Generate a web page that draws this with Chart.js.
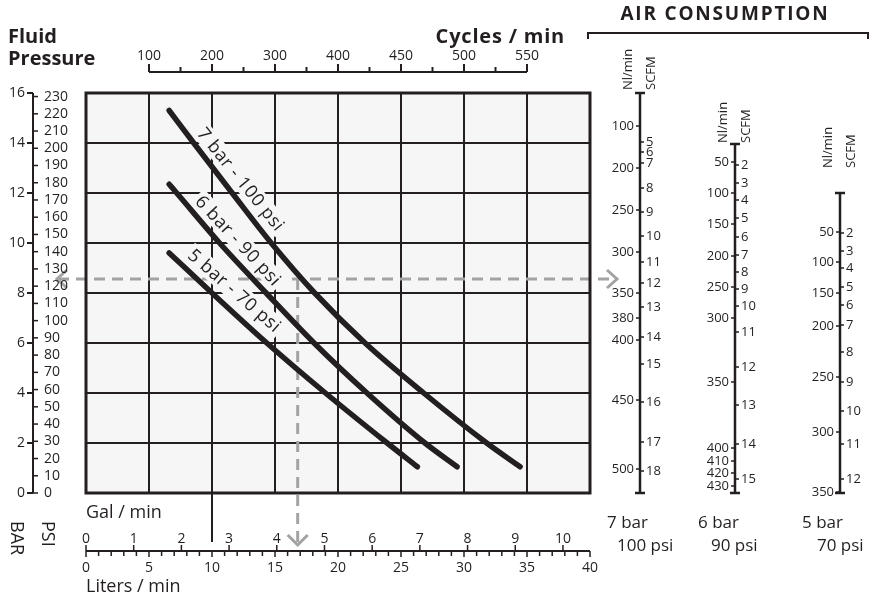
<!DOCTYPE html>
<html>
<head>
<meta charset="utf-8">
<script src="https://cdn.jsdelivr.net/npm/chart.js@4.4.0/dist/chart.umd.min.js"></script>
<style>
    html, body { margin: 0; padding: 0; background: #fff; }
    #wrap { width: 869px; height: 599px; }
</style>
</head>
<body>
<div id="wrap"><canvas id="pumpChart" width="869" height="599"></canvas></div>
<script>
// Pump curves: flow (liters / min) against fluid pressure (bar)
const flow7 = [6.6, 8.55, 11.6, 14.7, 18.15, 22.15, 26.8, 31.8, 34.45];
const pres7 = [15.3, 14, 12, 10, 8, 6, 4, 2, 1.05];
const flow6 = [6.6, 7.2, 10.6, 14.3, 18.1, 22.3, 26.9, 29.45];
const pres6 = [12.35, 12, 10, 8, 6, 4, 2, 1.05];
const flow5 = [6.6, 10.0, 14.35, 19.0, 23.9, 26.3];
const pres5 = [9.6, 8, 6, 4, 2, 1.05];
const curveNames = ["7 bar - 100 psi", "6 bar - 90 psi", "5 bar - 70 psi"];

// Axis ticks
const barTicks = [0, 2, 4, 6, 8, 10, 12, 14, 16];
const psiTicks = [0, 10, 20, 30, 40, 50, 60, 70, 80, 90, 100, 110, 120, 130, 140, 150, 160, 170, 180, 190, 200, 210, 220, 230];
const cycleLabels = [100, 200, 300, 400, 450, 500, 550];
const cycleAtFlow = [5, 10, 15, 20, 25, 30, 35];   // liters/min under each cycle rate
const galTicks = [0, 1, 2, 3, 4, 5, 6, 7, 8, 9, 10];
const literLabels = [0, 5, 10, 15, 20, 25, 30, 35, 40];

// Worked example (dashed grey lines)
const exampleFlow = 16.8;
const examplePressure = 8.56;

// Air consumption scales: value and the fluid pressure (bar) it lines up with
const air7Ni = [100, 200, 250, 300, 350, 380, 400, 450, 500];
const air7NiBar = [14.68, 13.0, 11.32, 9.64, 8.0, 7.0, 6.12, 3.72, 0.96];
const air7Scfm = [5, 6, 7, 8, 9, 10, 11, 12, 13, 14, 15, 16, 17, 18];
const air7ScfmBar = [14.04, 13.64, 13.2, 12.2, 11.24, 10.28, 9.24, 8.4, 7.44, 6.24, 5.16, 3.64, 2.04, 0.88];
const air6Ni = [50, 100, 150, 200, 250, 300, 350, 400, 410, 420, 430];
const air6NiBar = [13.24, 12.0, 10.76, 9.48, 8.24, 7.0, 4.44, 1.8, 1.28, 0.8, 0.28];
const air6Scfm = [2, 3, 4, 5, 6, 7, 8, 9, 10, 11, 12, 13, 14, 15];
const air6ScfmBar = [13.12, 12.4, 11.72, 11.0, 10.24, 9.52, 8.84, 8.16, 7.48, 6.44, 5.04, 3.52, 1.96, 0.56];
const air5Ni = [50, 100, 150, 200, 250, 300, 350];
const air5NiBar = [10.44, 9.24, 8.0, 6.68, 4.64, 2.44, 0.04];
const air5Scfm = [2, 3, 4, 5, 6, 7, 8, 9, 10, 11, 12];
const air5ScfmBar = [10.4, 9.68, 9.0, 8.24, 7.52, 6.72, 5.64, 4.44, 3.28, 1.96, 0.56];

const FONT = "'Open Sans', 'Noto Sans', sans-serif";
const INK = "#231f20";
const PLOT_BG = "#f6f6f6";
const DASH = "#a3a3a3";
const PSI_PER_BAR = 14.5038;
const LITERS_PER_GAL = 3.7854;

function toPoints(xs, ys) {
    return xs.map((v, i) => ({ x: v, y: ys[i] }));
}

function line(ctx, x1, y1, x2, y2) {
    ctx.beginPath();
    ctx.moveTo(x1, y1);
    ctx.lineTo(x2, y2);
    ctx.stroke();
}

function text(ctx, str, x, y, font, align, base) {
    ctx.font = font;
    ctx.textAlign = align || "left";
    ctx.textBaseline = base || "alphabetic";
    ctx.fillText(str, x, y);
}

function rotatedText(ctx, str, x, y, font, angle, align) {
    ctx.save();
    ctx.translate(x, y);
    ctx.rotate(angle);
    text(ctx, str, 0, 0, font, align, "middle");
    ctx.restore();
}

// one vertical air consumption scale
function drawAirScale(ctx, y, s) {
    const top = y.getPixelForValue(s.topBar);
    const bottom = y.getPixelForValue(0);
    ctx.lineWidth = 2.5;
    line(ctx, s.x, top, s.x, bottom);
    line(ctx, s.x - 5, top, s.x + 5, top);
    line(ctx, s.x - 5, bottom, s.x + 5, bottom);
    ctx.lineWidth = 1.5;
    s.ni.forEach((v, i) => {
        const p = y.getPixelForValue(s.niBar[i]);
        line(ctx, s.x - 4, p, s.x, p);
        text(ctx, String(v), s.x - 6, p, "13px " + FONT, "right", "middle");
    });
    s.scfm.forEach((v, i) => {
        const p = y.getPixelForValue(s.scfmBar[i]);
        line(ctx, s.x, p, s.x + 4, p);
        text(ctx, String(v), s.x + 6, p, "13px " + FONT, "left", "middle");
    });
    rotatedText(ctx, "Nl/min", s.x - 12, s.headBottom, "13px " + FONT, -Math.PI / 2, "left");
    rotatedText(ctx, "SCFM", s.x + 11, s.headBottom, "13px " + FONT, -Math.PI / 2, "left");
    text(ctx, s.bar, s.barX, 528, "17px " + FONT);
    text(ctx, s.psi, s.psiX, 551, "17px " + FONT);
}

const nomogram = {
    id: "nomogram",
    beforeDraw(chart) {
        const { ctx, chartArea: a } = chart;
        ctx.save();
        ctx.fillStyle = "#fff";
        ctx.fillRect(0, 0, chart.width, chart.height);
        ctx.fillStyle = PLOT_BG;
        ctx.fillRect(a.left, a.top, a.right - a.left, a.bottom - a.top);
        ctx.restore();
    },
    beforeDatasetsDraw(chart) {
        const { ctx, scales: { x, y } } = chart;
        const px = x.getPixelForValue(exampleFlow);
        const py = y.getPixelForValue(examplePressure);
        ctx.save();
        // dashed example lines
        ctx.strokeStyle = DASH;
        ctx.lineWidth = 3;
        ctx.setLineDash([11, 7]);
        line(ctx, 58, py, 614, py);
        line(ctx, px, py, px, 543);
        ctx.setLineDash([]);

        // curve labels, each on a small box that hides the grid
        const spots = [[12.3, 12.55, 51], [12.1, 10.1, 47], [11.8, 8.1, 41]];
        const labelFont = "18px " + FONT;
        spots.forEach((s, i) => {
            const cx = x.getPixelForValue(s[0]);
            const cy = y.getPixelForValue(s[1]);
            ctx.save();
            ctx.translate(cx, cy);
            ctx.rotate(s[2] * Math.PI / 180);
            ctx.font = labelFont;
            ctx.letterSpacing = "0.6px";
            const w = ctx.measureText(curveNames[i]).width;
            ctx.fillStyle = PLOT_BG;
            ctx.fillRect(-w / 2 - 3, -10, w + 6, 20);
            ctx.fillStyle = INK;
            text(ctx, curveNames[i], 0, 1, labelFont, "center", "middle");
            ctx.restore();
        });
        ctx.restore();
    },
    afterDatasetsDraw(chart) {
        const { ctx, chartArea: a, scales: { x, y } } = chart;
        ctx.save();
        ctx.strokeStyle = INK;
        ctx.fillStyle = INK;

        // plot frame
        ctx.lineWidth = 3;
        ctx.strokeRect(a.left, a.top, a.right - a.left, a.bottom - a.top);

        // arrowheads of the example
        const px = x.getPixelForValue(exampleFlow);
        const py = y.getPixelForValue(examplePressure);
        ctx.strokeStyle = DASH;
        ctx.lineWidth = 3;
        ctx.beginPath();
        ctx.moveTo(67, py - 9); ctx.lineTo(57, py); ctx.lineTo(67, py + 9);
        ctx.moveTo(607, py - 9); ctx.lineTo(617, py); ctx.lineTo(607, py + 9);
        ctx.moveTo(px - 10, 535); ctx.lineTo(px, 545); ctx.lineTo(px + 10, 535);
        ctx.stroke();
        ctx.strokeStyle = INK;

        // left BAR / PSI axis
        const axX = 33;
        ctx.lineWidth = 2;
        line(ctx, axX, y.getPixelForValue(16), axX, y.getPixelForValue(0));
        barTicks.forEach(v => {
            const p = y.getPixelForValue(v);
            line(ctx, axX - 6, p, axX, p);
            text(ctx, String(v), axX - 8, p, "14px " + FONT, "right", "middle");
        });
        ctx.lineWidth = 1.5;
        psiTicks.forEach(v => {
            const p = y.getPixelForValue(v / PSI_PER_BAR);
            line(ctx, axX, p, axX + 5, p);
            text(ctx, String(v), 44, p, "14px " + FONT, "left", "middle");
        });
        rotatedText(ctx, "BAR", 16, 521, "18px " + FONT, Math.PI / 2, "left");
        rotatedText(ctx, "PSI", 47, 521, "18px " + FONT, Math.PI / 2, "left");

        // top cycles / min axis
        const topY = 72;
        ctx.lineWidth = 2;
        line(ctx, x.getPixelForValue(cycleAtFlow[0]), topY, x.getPixelForValue(cycleAtFlow[cycleAtFlow.length - 1]), topY);
        cycleLabels.forEach((v, i) => {
            const p = x.getPixelForValue(cycleAtFlow[i]);
            line(ctx, p, topY - 8, p, topY);
            text(ctx, String(v), p, topY - 12, "14px " + FONT, "center");
            if (i < cycleLabels.length - 1) {
                const m = x.getPixelForValue((cycleAtFlow[i] + cycleAtFlow[i + 1]) / 2);
                line(ctx, m, topY - 5, m, topY);
            }
        });

        // bottom gal / liters axis
        const botY = 551;
        line(ctx, x.getPixelForValue(10), a.bottom, x.getPixelForValue(10), 542);
        line(ctx, x.getPixelForValue(0), botY, x.getPixelForValue(40), botY);
        ctx.lineWidth = 1.5;
        for (let v = 0; v <= 40; v++) {
            const p = x.getPixelForValue(v);
            line(ctx, p, botY, p, botY + (v % 5 === 0 ? 6 : 5));
        }
        literLabels.forEach(v => {
            text(ctx, String(v), x.getPixelForValue(v), 572, "14px " + FONT, "center");
        });
        galTicks.forEach(g => {
            const p = x.getPixelForValue(g * LITERS_PER_GAL);
            line(ctx, p, botY - 6, p, botY);
            text(ctx, String(g), p, 543, "14px " + FONT, "center");
        });
        text(ctx, "Gal / min", 86, 518, "18px " + FONT);
        text(ctx, "Liters / min", 86, 592, "18px " + FONT);

        // titles
        text(ctx, "Fluid", 8, 43, "bold 20px " + FONT);
        text(ctx, "Pressure", 8, 65, "bold 20px " + FONT);
        ctx.letterSpacing = "0.8px";
        text(ctx, "Cycles / min", 565, 43, "bold 20px " + FONT, "right");
        ctx.letterSpacing = "1.8px";
        text(ctx, "AIR CONSUMPTION", 725, 20, "bold 19px " + FONT, "center");
        ctx.letterSpacing = "0px";
        ctx.lineWidth = 2;
        ctx.beginPath();
        ctx.moveTo(588, 39); ctx.lineTo(588, 33); ctx.lineTo(868, 33); ctx.lineTo(868, 39);
        ctx.stroke();

        // air consumption scales
        drawAirScale(ctx, y, { x: 640, topBar: 16, ni: air7Ni, niBar: air7NiBar, scfm: air7Scfm, scfmBar: air7ScfmBar,
            headBottom: 90, bar: "7 bar", barX: 607, psi: "100 psi", psiX: 617 });
        drawAirScale(ctx, y, { x: 735, topBar: 13.96, ni: air6Ni, niBar: air6NiBar, scfm: air6Scfm, scfmBar: air6ScfmBar,
            headBottom: 143, bar: "6 bar", barX: 698, psi: "90 psi", psiX: 711 });
        drawAirScale(ctx, y, { x: 840, topBar: 12, ni: air5Ni, niBar: air5NiBar, scfm: air5Scfm, scfmBar: air5ScfmBar,
            headBottom: 168, bar: "5 bar", barX: 802, psi: "70 psi", psiX: 817 });

        ctx.restore();
    }
};

function curve(label, xs, ys) {
    return {
        label: label,
        data: toPoints(xs, ys),
        showLine: true,
        borderColor: INK,
        borderWidth: 5.5,
        borderCapStyle: "round",
        borderJoinStyle: "round",
        cubicInterpolationMode: "monotone",
        pointRadius: 0,
        fill: false
    };
}

const ctx = document.getElementById("pumpChart").getContext("2d");
const chartInstance = new Chart(ctx, {
    type: "scatter",
    data: {
        datasets: [
            curve(curveNames[0], flow7, pres7),
            curve(curveNames[1], flow6, pres6),
            curve(curveNames[2], flow5, pres5)
        ]
    },
    options: {
        responsive: false,
        animation: false,
        layout: { padding: { left: 86, top: 93, right: 279, bottom: 106 } },
        plugins: {
            legend: { display: false },
            tooltip: { enabled: false }
        },
        scales: {
            x: {
                type: "linear",
                min: 0,
                max: 40,
                ticks: { stepSize: 5, display: false },
                grid: { color: INK, lineWidth: 2, drawTicks: false },
                border: { display: false }
            },
            y: {
                type: "linear",
                min: 0,
                max: 16,
                ticks: { stepSize: 2, display: false },
                grid: { color: INK, lineWidth: 2, drawTicks: false },
                border: { display: false }
            }
        }
    },
    plugins: [nomogram]
});
</script>
</body>
</html>
